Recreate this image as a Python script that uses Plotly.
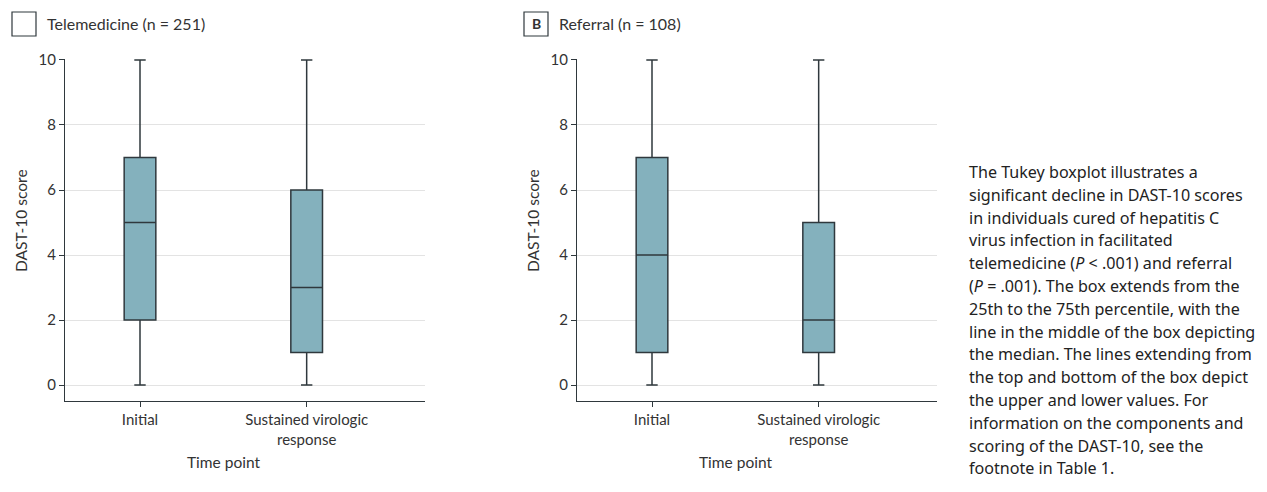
import plotly.graph_objects as go

W, H = 1267, 492
OFF = 8  # page body margin
FW, FH = W - 2 * OFF, H - 2 * OFF

categories = ["Initial", "Sustained virologic<br>response"]

# Telemedicine (n = 251)
tele_min = [0, 0]
tele_q1 = [2, 1]
tele_med = [5, 3]
tele_q3 = [7, 6]
tele_max = [10, 10]

# Referral (n = 108)
ref_min = [0, 0]
ref_q1 = [1, 1]
ref_med = [4, 2]
ref_q3 = [7, 5]
ref_max = [10, 10]

y_ticks = [0, 2, 4, 6, 8, 10]

caption_lines = [
    "The Tukey boxplot illustrates a",
    "significant decline in DAST-10 scores",
    "in individuals cured of hepatitis C",
    "virus infection in facilitated",
    "telemedicine (<i>P</i> < .001) and referral",
    "(<i>P</i> = .001). The box extends from the",
    "25th to the 75th percentile, with the",
    "line in the middle of the box depicting",
    "the median. The lines extending from",
    "the top and bottom of the box depict",
    "the upper and lower values. For",
    "information on the components and",
    "scoring of the DAST-10, see the",
    "footnote in Table 1.",
]

FILL = "#84B1BD"
LINE = "#2F383D"
TXT = "#333333"
FONT = "Lato"
CAPFONT = "Noto Sans"


def px_x(p):
    return (p - OFF) / FW


def px_y(p):
    return 1 - (p - OFF) / FH


fig = go.Figure()

for xa, ya, mn, q1, md, q3, mx in [
    ("x", "y", tele_min, tele_q1, tele_med, tele_q3, tele_max),
    ("x2", "y2", ref_min, ref_q1, ref_med, ref_q3, ref_max),
]:
    fig.add_trace(go.Box(
        x=categories, q1=q1, median=md, q3=q3, lowerfence=mn, upperfence=mx,
        xaxis=xa, yaxis=ya, fillcolor=FILL, line=dict(color=LINE, width=1.5),
        width=0.19, whiskerwidth=0.36, boxpoints=False, showlegend=False,
        hoverinfo="skip",
    ))

xdom_a = [px_x(65), px_x(425)]
xdom_b = [px_x(577), px_x(937)]
ydom = [px_y(401), px_y(59)]

common_x = dict(
    type="category", range=[-0.45, 1.71], showline=True, linecolor=LINE, linewidth=1.3,
    ticks="outside", ticklen=5, tickcolor=LINE, tickwidth=1.2, showgrid=False,
    tickfont=dict(family=FONT, size=15, color=TXT), zeroline=False, automargin=False,
    categoryorder="array", categoryarray=categories,
)
common_y = dict(
    range=[-0.49, 10.03], tickvals=y_ticks, showline=True, linecolor=LINE, linewidth=1.3,
    ticks="outside", ticklen=5, tickcolor=LINE, tickwidth=1.2, showgrid=True,
    gridcolor="#E3E3E3", gridwidth=1.2, zeroline=False, automargin=False,
    tickfont=dict(family=FONT, size=15, color=TXT), domain=ydom,
)

fig.update_layout(
    template="none",
    width=FW, height=FH, margin=dict(l=0, r=0, t=0, b=0, autoexpand=False),
    paper_bgcolor="white", plot_bgcolor="white",
    xaxis=dict(domain=xdom_a, anchor="y", **common_x),
    yaxis=dict(anchor="x", **common_y),
    xaxis2=dict(domain=xdom_b, anchor="y2", **common_x),
    yaxis2=dict(anchor="x2", **common_y),
)

ann = []
shapes = []
# Panel headers
shapes.append(dict(type="rect", xref="paper", yref="paper",
                   x0=px_x(12), x1=px_x(36), y0=px_y(36), y1=px_y(12),
                   line=dict(color=LINE, width=1.2)))
ann.append(dict(text="Telemedicine (n = 251)", x=px_x(45), y=px_y(24), xref="paper", yref="paper",
                xanchor="left", yanchor="middle", showarrow=False,
                font=dict(family=FONT, size=16, color=TXT)))
shapes.append(dict(type="rect", xref="paper", yref="paper",
                   x0=px_x(524), x1=px_x(548), y0=px_y(36), y1=px_y(12),
                   line=dict(color=LINE, width=1.2)))
ann.append(dict(text="<b>B</b>", x=px_x(536), y=px_y(24), xref="paper", yref="paper",
                xanchor="center", yanchor="middle", showarrow=False,
                font=dict(family=FONT, size=14, color=TXT)))
ann.append(dict(text="Referral (n = 108)", x=px_x(557), y=px_y(24), xref="paper", yref="paper",
                xanchor="left", yanchor="middle", showarrow=False,
                font=dict(family=FONT, size=16, color=TXT)))

# Axis titles
for yx, xc in [(21, 223), (533, 735)]:
    ann.append(dict(text="DAST-10 score", x=px_x(yx), y=px_y(221), xref="paper", yref="paper",
                    xanchor="center", yanchor="middle", textangle=-90, showarrow=False,
                    font=dict(family=FONT, size=15.5, color=TXT)))
    ann.append(dict(text="Time point", x=px_x(xc), y=px_y(462), xref="paper", yref="paper",
                    xanchor="center", yanchor="middle", showarrow=False,
                    font=dict(family=FONT, size=15.5, color=TXT)))

# Caption
for i, line in enumerate(caption_lines):
    ann.append(dict(text=line, x=px_x(967), y=px_y(172 + 22.8 * i), xref="paper", yref="paper",
                    xanchor="left", yanchor="middle", showarrow=False,
                    font=dict(family=CAPFONT, size=16.1, color="#222222")))

fig.update_layout(annotations=ann, shapes=shapes)
fig.write_html("out.html")
